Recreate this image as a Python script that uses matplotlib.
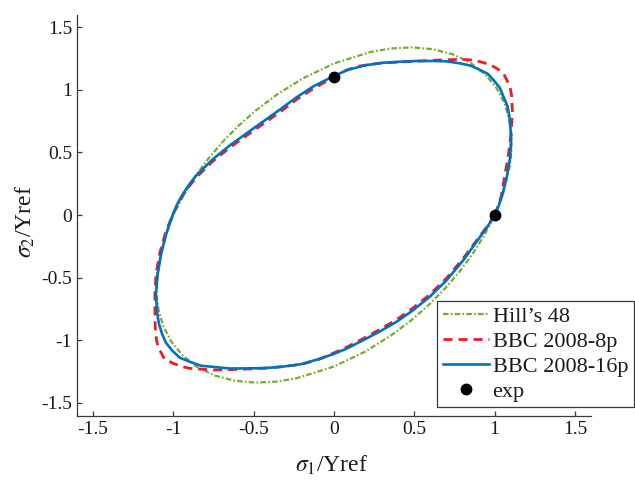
import matplotlib
matplotlib.use("Agg")
import matplotlib.pyplot as plt

# ---- data ----
hill_x = [1.0000, 1.0562, 1.0957, 1.1052, 1.1049, 1.0914, 1.0615, 1.0122, 0.9416, 0.8501,
          0.7401, 0.6169, 0.4869, 0.3561, 0.2295, 0.0000, -0.1924, -0.3512, -0.4835, -0.5960,
          -0.6941, -0.7816, -0.8612, -0.9341,
          -1.0000, -1.0562, -1.0957, -1.1052, -1.1049, -1.0914, -1.0615, -1.0122, -0.9416, -0.8501,
          -0.7401, -0.6169, -0.4869, -0.3561, -0.2295, 0.0000, 0.1924, 0.3512, 0.4835, 0.5960,
          0.6941, 0.7816, 0.8612, 0.9341, 1.0000]
hill_y = [0.0000, 0.1862, 0.3988, 0.5154, 0.6379, 0.7642, 0.8907, 1.0122, 1.1221, 1.2140,
          1.2819, 1.3229, 1.3377, 1.3291, 1.3016, 1.2091, 1.0912, 0.9649, 0.8374, 0.7103,
          0.5824, 0.4513, 0.3135, 0.1647,
          0.0000, -0.1862, -0.3988, -0.5154, -0.6379, -0.7642, -0.8907, -1.0122, -1.1221, -1.2140,
          -1.2819, -1.3229, -1.3377, -1.3291, -1.3016, -1.2091, -1.0912, -0.9649, -0.8374, -0.7103,
          -0.5824, -0.4513, -0.3135, -0.1647, 0.0000]

bbc8_x = [1.000, 1.022, 1.040, 1.062, 1.084, 1.101, 1.111, 1.107, 1.097, 1.076, 1.056, 1.014,
          0.965, 0.910, 0.848, 0.785, 0.660, 0.500, 0.300, 0.150, 0.070, 0.000, -0.129, -0.232,
          -0.336, -0.440, -0.544, -0.648, -0.752, -0.856, -0.901, -0.941, -0.976, -1.005, -1.050,
          -1.085, -1.108, -1.115, -1.115, -1.113, -1.105, -1.095, -1.074, -1.056, -1.001, -0.951,
          -0.897, -0.752, -0.586, -0.400, -0.204, -0.090, 0.000, 0.079, 0.183, 0.287, 0.391,
          0.494, 0.598, 0.702, 0.806, 0.910, 0.958, 1.000]
bbc8_y = [0.000, 0.072, 0.146, 0.306, 0.465, 0.640, 0.811, 0.944, 1.013, 1.077, 1.128, 1.170,
          1.203, 1.223, 1.238, 1.242, 1.237, 1.226, 1.214, 1.187, 1.152, 1.100, 1.008, 0.922,
          0.822, 0.728, 0.634, 0.538, 0.432, 0.302, 0.230, 0.157, 0.078, 0.000, -0.146,
          -0.306, -0.470, -0.625, -0.780, -0.891, -0.998, -1.054, -1.104, -1.148, -1.184, -1.208,
          -1.224, -1.237, -1.232, -1.220, -1.193, -1.150, -1.100, -1.055, -0.985, -0.912, -0.834,
          -0.740, -0.633, -0.502, -0.344, -0.165, -0.082, 0.000]

bbc16_x = [1.000, 1.025, 1.045, 1.076, 1.097, 1.103, 1.092, 1.080, 1.055, 1.032, 0.993, 0.957,
           0.910, 0.850, 0.785, 0.703, 0.619, 0.515, 0.411, 0.307, 0.204, 0.090, 0.000, -0.129,
           -0.232, -0.336, -0.440, -0.544, -0.648, -0.752, -0.856, -0.901, -0.941, -0.976, -1.005,
           -1.045, -1.076, -1.097, -1.109, -1.100, -1.089, -1.070, -1.045, -1.005, -0.959, -0.900,
           -0.828, -0.752, -0.648, -0.544, -0.440, -0.336, -0.204, -0.090, 0.000, 0.079, 0.183,
           0.287, 0.391, 0.494, 0.598, 0.702, 0.806, 0.910, 0.958, 1.000]
bbc16_y = [0.000, 0.072, 0.146, 0.306, 0.465, 0.625, 0.785, 0.868, 0.944, 1.016, 1.077, 1.127,
           1.157, 1.192, 1.210, 1.226, 1.229, 1.229, 1.223, 1.215, 1.197, 1.160, 1.110, 1.026,
           0.940, 0.842, 0.747, 0.652, 0.556, 0.448, 0.318, 0.244, 0.167, 0.086, 0.000,
           -0.154, -0.310, -0.468, -0.630, -0.790, -0.872, -0.950, -1.022, -1.085, -1.140, -1.170,
           -1.203, -1.212, -1.225, -1.224, -1.222, -1.213, -1.190, -1.148, -1.108, -1.066, -0.998,
           -0.928, -0.851, -0.758, -0.650, -0.519, -0.359, -0.173, -0.088, 0.000]

exp_x = [0.0, 1.0]
exp_y = [1.1, 0.0]

labels = ["Hill\u2019s 48", "BBC 2008-8p", "BBC 2008-16p", "exp"]
ticks = [-1.5, -1, -0.5, 0, 0.5, 1, 1.5]
tick_labels = ["-1.5", "-1", "-0.5", "0", "0.5", "1", "1.5"]

# ---- style ----
plt.rcParams['font.family'] = ['Liberation Serif', 'DejaVu Serif']
plt.rcParams['mathtext.fontset'] = 'stix'
plt.rcParams['axes.unicode_minus'] = False
plt.rcParams['lines.scale_dashes'] = False

W, H = 635, 480
fig = plt.figure(figsize=(W / 100, H / 100), dpi=100)
ax = fig.add_axes([77 / W, (H - 415.5) / H, 514 / W, 401 / H])

green = '#77AC30'
red = '#EE1C25'
blue = '#0072BD'

ax.plot(hill_x, hill_y, color=green, lw=1.6, dashes=(4.0, 1.6, 1.2, 1.6), label=labels[0])
ax.plot(bbc8_x, bbc8_y, color=red, lw=2.0, dashes=(6.5, 4.3), label=labels[1])
ax.plot(bbc16_x, bbc16_y, color=blue, lw=1.9, label=labels[2])
ax.plot(exp_x, exp_y, 'o', color='black', ms=7.5, ls='none', label=labels[3])

ax.set_xlim(-1.6, 1.6)
ax.set_ylim(-1.6, 1.6)
ax.set_xticks(ticks)
ax.set_xticklabels(tick_labels)
ax.set_yticks(ticks)
ax.set_yticklabels(tick_labels)

for s in ['top', 'right']:
    ax.spines[s].set_visible(False)
for s in ['left', 'bottom']:
    ax.spines[s].set_color('#3a3a3a')
    ax.spines[s].set_linewidth(0.9)

ax.tick_params(direction='in', length=3.8, width=0.9, color='#3a3a3a',
               labelsize=14, labelcolor='#1a1a1a')
ax.tick_params(axis='x', pad=4)
ax.tick_params(axis='y', pad=3.5)

ax.set_xlabel(r'$\sigma_1$/Yref', fontsize=17, color='#1a1a1a')
ax.set_ylabel(r'$\sigma_2$/Yref', fontsize=17, color='#1a1a1a')
ax.xaxis.set_label_coords(0.4955, -0.095)
ax.yaxis.set_label_coords(-0.077, 0.485)

leg = ax.legend(loc='upper left', bbox_to_anchor=(437 / W, (H - 300.7) / H),
                bbox_transform=fig.transFigure, borderaxespad=0, fontsize=16,
                handlelength=2.1, handletextpad=0.15, labelspacing=0.2, borderpad=0.25,
                fancybox=False, framealpha=1, edgecolor='#3a3a3a')
leg.get_frame().set_linewidth(0.9)
for t in leg.get_texts():
    t.set_color('#1a1a1a')

fig.savefig('out.png', dpi=100)
